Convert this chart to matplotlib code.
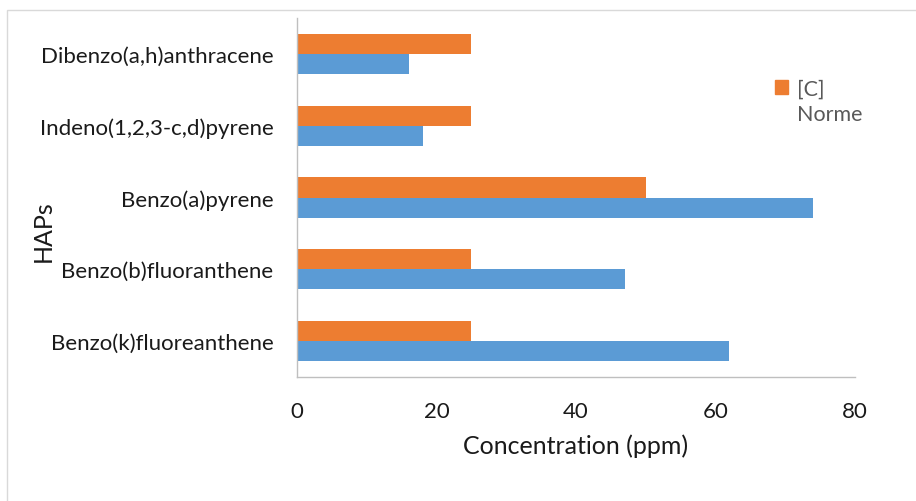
import numpy as np
import matplotlib.pyplot as plt
from matplotlib.patches import Patch, Rectangle

plt.rcParams["font.family"] = ["Lato", "DejaVu Sans"]

composes = ["Benzo(k)fluoreanthene", "Benzo(b)fluoranthene", "Benzo(a)pyrene",
            "Indeno(1,2,3-c,d)pyrene", "Dibenzo(a,h)anthracene"]
norme = [62, 47, 74, 18, 16]
conc = [25, 25, 50, 25, 25]
xticks = [0, 20, 40, 60, 80]

blue = "#5B9BD5"
orange = "#ED7D31"
grey = "#595959"

fig = plt.figure(figsize=(9.16, 5.02), dpi=100)
ax = fig.add_axes([297 / 916, 1 - 378 / 502, (855 - 297) / 916, (378 - 19) / 502])

y = np.arange(len(composes))
h = 0.28
ax.barh(y - h / 2, norme, height=h, color=blue)
ax.barh(y + h / 2, conc, height=h, color=orange)

ax.set_xlim(0, 80)
ax.set_ylim(-0.5, len(composes) - 0.5)
ax.set_xticks(xticks)
ax.set_yticks(y)
ax.set_yticklabels(composes)
ax.tick_params(axis="both", length=0, labelsize=16, colors="#1a1a1a")
ax.tick_params(axis="y", pad=17)
ax.tick_params(axis="x", pad=17)
for s in ["top", "right"]:
    ax.spines[s].set_visible(False)
for s in ["left", "bottom"]:
    ax.spines[s].set_color("#BFBFBF")
    ax.spines[s].set_linewidth(1)

ax.set_xlabel("Concentration (ppm)", fontsize=18, color="#1a1a1a", labelpad=9)
fig.text(43 / 916, 1 - 231 / 502, "HAPs", rotation=90, fontsize=18,
         ha="center", va="center", color="#1a1a1a")

handles = [Patch(color=orange), Patch(color="none")]
fig.legend(handles, ["[C]", "Norme"], loc="upper left",
           bbox_to_anchor=(756 / 916, 1 - 60 / 502), frameon=False,
           fontsize=15.5, labelcolor=grey, handlelength=0.6, handleheight=0.6,
           handletextpad=0.4, labelspacing=0.25)

# thin frame around the chart area
fig.patches.append(Rectangle((6.5 / 916, -0.1), 1.2, 1 - 10.5 / 502 + 0.1,
                             transform=fig.transFigure, fill=False,
                             edgecolor="#D9D9D9", linewidth=1))

fig.savefig("out.png", dpi=100)
